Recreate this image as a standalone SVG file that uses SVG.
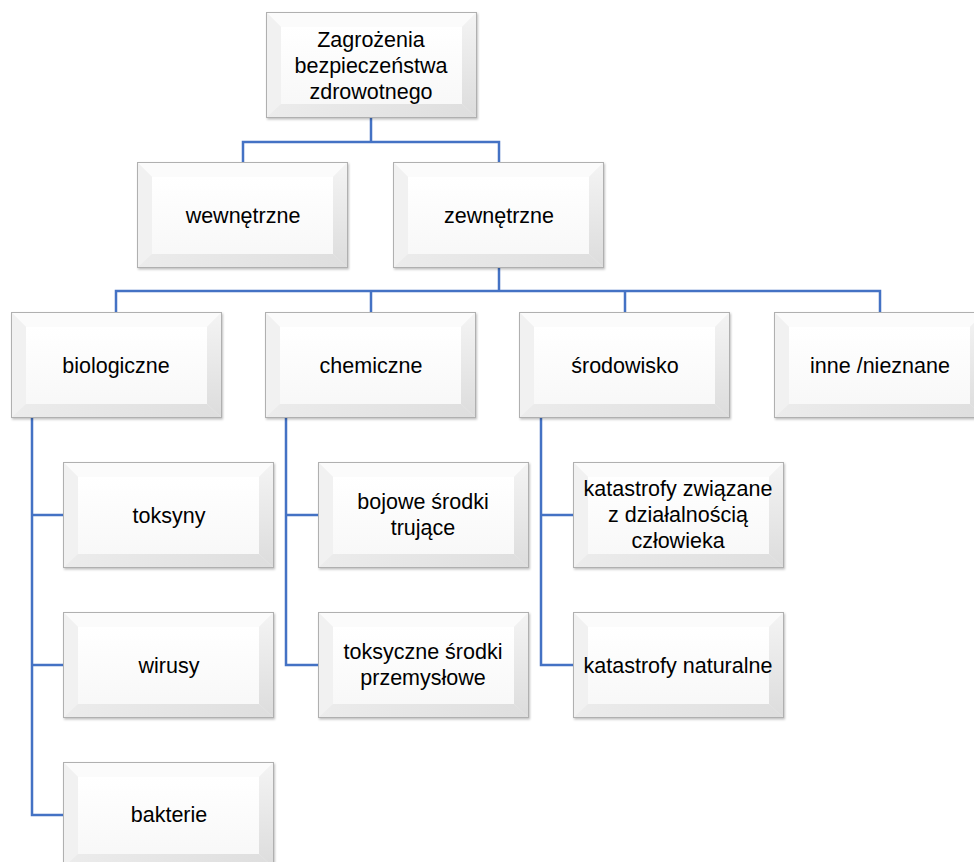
<svg xmlns="http://www.w3.org/2000/svg" width="974" height="862" viewBox="0 0 974 862">
<style>
.conn{fill:none;stroke:#4472C4;stroke-width:2.5;stroke-linecap:square}
.lbl{font-family:"Liberation Sans",Arial,sans-serif;font-size:21.5px;fill:#000;text-anchor:middle}
</style>
<defs>
<linearGradient id="gc" x1="0" y1="0" x2="0" y2="1"><stop offset="0" stop-color="#ffffff"/><stop offset="1" stop-color="#f8f8f8"/></linearGradient>
<linearGradient id="gr" x1="0" y1="0" x2="0" y2="1"><stop offset="0" stop-color="#f4f4f4"/><stop offset="1" stop-color="#dcdcdc"/></linearGradient>
<linearGradient id="gb" x1="0" y1="0" x2="1" y2="0"><stop offset="0" stop-color="#ececec"/><stop offset="1" stop-color="#dedede"/></linearGradient>
<filter id="sh" x="-5%" y="-5%" width="110%" height="115%"><feDropShadow dx="1" dy="1.5" stdDeviation="1" flood-color="#000" flood-opacity="0.25"/></filter>
<symbol id="bevel" width="212" height="108" overflow="visible">
<g filter="url(#sh)">
<rect x="0" y="0" width="211" height="106" fill="#f2f2f2"/>
<polygon points="0,0 211,0 196,15 15,15" fill="#fbfbfb"/>
<polygon points="0,0 15,15 15,92 0,106" fill="#f1f1f1"/>
<polygon points="211,0 211,106 196,92 196,15" fill="url(#gr)"/>
<polygon points="0,106 211,106 196,92 15,92" fill="url(#gb)"/>
<rect x="15" y="15" width="181" height="77" fill="url(#gc)"/>
<rect x="0.5" y="0.5" width="210" height="105" fill="none" stroke="#b0b0b0" stroke-width="1"/>
</g>
</symbol>
</defs>
<g id="connectors">
<path class="conn" d="M371,118 V142 M243,142 H499 M243,142 V162 M499,142 V162"/>
<path class="conn" d="M499,269 V291 M116,291 H880 M116,291 V312 M371,291 V312 M625,291 V312 M880,291 V312"/>
<path class="conn" d="M32,419 V815 M32,515 H63 M32,665 H63 M32,815 H63"/>
<path class="conn" d="M286,419 V665 M286,515 H318 M286,665 H318"/>
<path class="conn" d="M541,419 V665 M541,515 H573 M541,665 H573"/>
</g>
<g id="n-root"><use href="#bevel" x="266" y="12"/>
<text class="lbl" x="371" y="47">Zagrożenia</text><text class="lbl" x="371" y="73">bezpieczeństwa</text><text class="lbl" x="371" y="99">zdrowotnego</text></g>
<g id="n-wew"><use href="#bevel" x="137" y="162"/><text class="lbl" x="243" y="223">wewnętrzne</text></g>
<g id="n-zew"><use href="#bevel" x="393" y="162"/><text class="lbl" x="499" y="223">zewnętrzne</text></g>
<g id="n-bio"><use href="#bevel" x="11" y="312"/><text class="lbl" x="116" y="373">biologiczne</text></g>
<g id="n-chem"><use href="#bevel" x="265" y="312"/><text class="lbl" x="371" y="373">chemiczne</text></g>
<g id="n-srod"><use href="#bevel" x="519" y="312"/><text class="lbl" x="625" y="373">środowisko</text></g>
<g id="n-inne"><use href="#bevel" x="774" y="312"/><text class="lbl" x="880" y="373">inne /nieznane</text></g>
<g id="n-toks"><use href="#bevel" x="63" y="462"/><text class="lbl" x="169" y="523">toksyny</text></g>
<g id="n-wir"><use href="#bevel" x="63" y="612"/><text class="lbl" x="169" y="673">wirusy</text></g>
<g id="n-bakt"><use href="#bevel" x="63" y="762"/><text class="lbl" x="169" y="822">bakterie</text></g>
<g id="n-boj"><use href="#bevel" x="318" y="462"/><text class="lbl" x="423" y="509">bojowe środki</text><text class="lbl" x="423" y="535">trujące</text></g>
<g id="n-toksp"><use href="#bevel" x="318" y="612"/><text class="lbl" x="423" y="659">toksyczne środki</text><text class="lbl" x="423" y="685">przemysłowe</text></g>
<g id="n-kdz"><use href="#bevel" x="573" y="462"/><text class="lbl" x="678" y="496">katastrofy związane</text><text class="lbl" x="678" y="522">z działalnością</text><text class="lbl" x="678" y="548">człowieka</text></g>
<g id="n-knat"><use href="#bevel" x="573" y="612"/><text class="lbl" x="678" y="673">katastrofy naturalne</text></g>
</svg>
